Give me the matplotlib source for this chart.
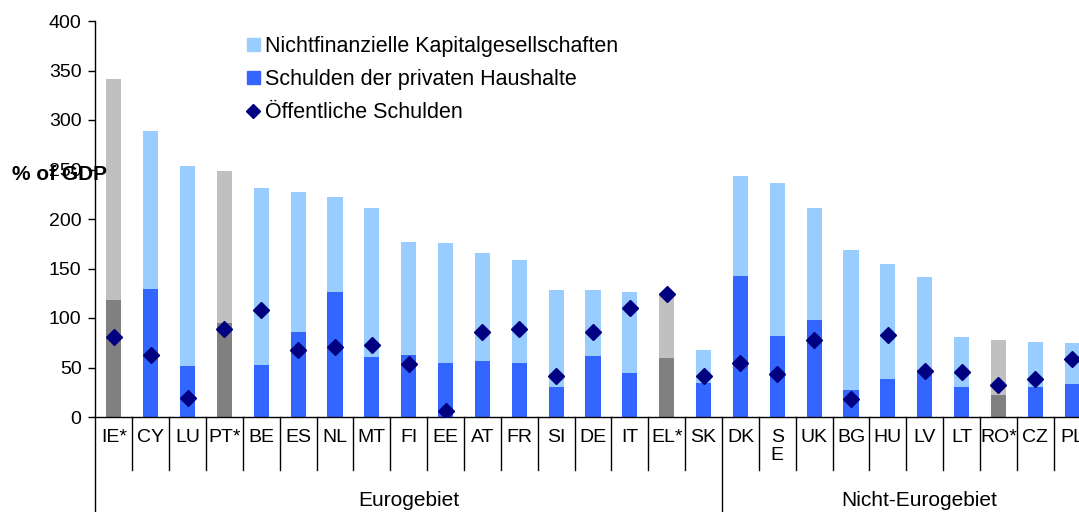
import matplotlib
matplotlib.use("Agg")
import matplotlib.pyplot as plt
import matplotlib.transforms as mtransforms
from matplotlib.patches import Patch
from matplotlib.lines import Line2D
import numpy as np

plt.rcParams['font.family'] = ['Liberation Sans', 'DejaVu Sans']

# data (% of GDP)
countries = ["IE*", "CY", "LU", "PT*", "BE", "ES", "NL", "MT", "FI", "EE", "AT", "FR", "SI",
             "DE", "IT", "EL*", "SK", "DK", "S\nE", "UK", "BG", "HU", "LV", "LT", "RO*", "CZ", "PL"]
households = [118, 129, 51.5, 95, 52.5, 86, 126, 60.5, 62.5, 54.5, 56.5, 54.5, 30,
              61.5, 44.5, 59.5, 34.5, 142.5, 82, 98, 27.5, 38.5, 47, 30.5, 22, 30.5, 33.5]
corporates = [223, 160, 202, 153.5, 178.5, 141, 96, 150.5, 114.5, 121.5, 109, 104, 98,
              66.5, 81.5, 63.5, 33, 101, 154.5, 113, 141, 116, 94.5, 50.5, 56, 45.5, 41.5]
public_debt = [80.5, 63, 19.5, 89, 108, 68, 71, 73, 53.5, 6.5, 85.5, 89, 41.5,
               85.5, 110.5, 124.5, 41.5, 55, 43.5, 77.5, 18, 82.5, 46.5, 45.5, 32, 38.5, 58.5]
estimated = ["IE*", "PT*", "EL*", "RO*"]
groups = [("Eurogebiet", -0.5, 16.5), ("Nicht-Eurogebiet", 16.5, 27.2)]

c_light = "#99CCFF"
c_blue = "#3366FF"
c_gray_light = "#C0C0C0"
c_gray_dark = "#808080"
c_navy = "#000080"

fig = plt.figure(figsize=(10.79, 5.12), dpi=100)
ax = fig.add_axes([95.4 / 1079, 95 / 512, (1079 - 95.4) / 1079, 396 / 512])

x = np.arange(len(countries))
low_col = [c_gray_dark if c in estimated else c_blue for c in countries]
top_col = [c_gray_light if c in estimated else c_light for c in countries]

ax.bar(x, households, width=0.41, color=low_col, zorder=2)
ax.bar(x, corporates, width=0.41, bottom=households, color=top_col, zorder=2)
ax.plot(x, public_debt, linestyle="none", marker="D", markersize=8,
        color=c_navy, zorder=3)

ax.set_xlim(-0.5, (1079 - 95.4) / 36.86 - 0.5)
ax.set_ylim(0, 400)
ax.set_yticks(np.arange(0, 401, 50))
ax.tick_params(axis="y", length=5, width=1, pad=5, labelsize=14, direction="out")
ax.set_xticks(x)
ax.set_xticklabels(countries, fontsize=14, linespacing=1.05)
ax.tick_params(axis="x", length=0, pad=9)

for s in ["top", "right"]:
    ax.spines[s].set_visible(False)
for s in ["left", "bottom"]:
    ax.spines[s].set_linewidth(1)

# category separators below the axis
trans = mtransforms.blended_transform_factory(ax.transData, ax.transAxes)
bounds = [g[1] for g in groups]
for b in np.arange(len(countries)) + 0.5:
    if b in bounds:
        continue
    ax.plot([b, b], [0, -0.134], color="black", lw=1, transform=trans, clip_on=False)
for b in bounds:
    ax.plot([b, b], [0, -0.25], color="black", lw=1, transform=trans, clip_on=False)

for name, a, b in groups:
    ax.text((a + b) / 2, -0.21, name, transform=trans, ha="center", va="center", fontsize=15)

fig.text(59 / 1079, 1 - 175 / 512, "% of GDP", fontsize=15, fontweight="bold",
         ha="center", va="center")

handles = [Patch(color=c_light), Patch(color=c_blue),
           Line2D([], [], linestyle="none", marker="D", markersize=7, color=c_navy)]
labels = ["Nichtfinanzielle Kapitalgesellschaften", "Schulden der privaten Haushalte",
          "Öffentliche Schulden"]
ax.legend(handles, labels, loc="upper left", bbox_to_anchor=(247 / 1079, 1 - 36 / 512),
          bbox_transform=fig.transFigure, frameon=False, fontsize=15.5, borderpad=0,
          handlelength=0.6, handleheight=0.6, handletextpad=0.25, labelspacing=0.56,
          borderaxespad=0)

fig.savefig("out.png", dpi=100)
